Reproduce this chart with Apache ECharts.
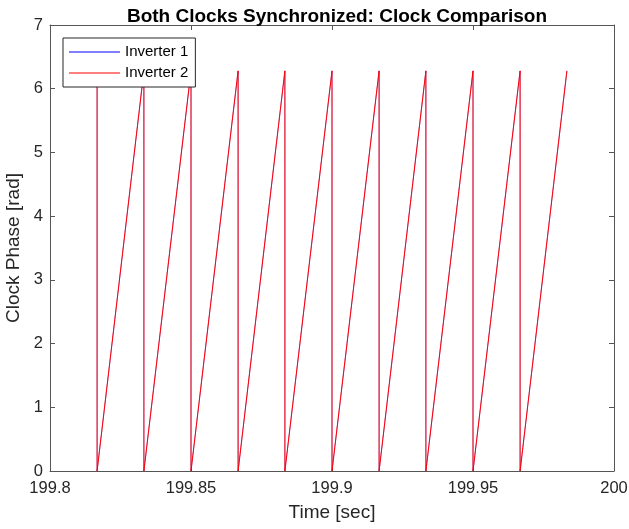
<!DOCTYPE html>
<html>
<head>
<meta charset="utf-8">
<script src="https://cdn.jsdelivr.net/npm/echarts@6/dist/echarts.min.js"></script>
<style>
  html, body { margin: 0; padding: 0; background: #fff; }
  #chart { width: 629px; height: 529px; }
</style>
</head>
<body>
<div id="chart"></div>
<script>
// time stamps of the sawtooth corners (reset instants)
var timeSec = [
  199.8167, 199.8167, 199.8333, 199.8333, 199.85, 199.85,
  199.8667, 199.8667, 199.8833, 199.8833, 199.9, 199.9,
  199.9167, 199.9167, 199.9333, 199.9333, 199.95, 199.95,
  199.9667, 199.9667, 199.9833
];
var phaseInv1 = [
  6.28, 0, 6.28, 0, 6.28, 0, 6.28, 0, 6.28, 0, 6.28, 0,
  6.28, 0, 6.28, 0, 6.28, 0, 6.28, 0, 6.28
];
var phaseInv2 = [
  6.28, 0, 6.28, 0, 6.28, 0, 6.28, 0, 6.28, 0, 6.28, 0,
  6.28, 0, 6.28, 0, 6.28, 0, 6.28, 0, 6.28
];
var xTicks = [199.8, 199.85, 199.9, 199.95, 200];

function pairs(xs, ys) {
  var out = [];
  for (var i = 0; i < xs.length; i++) {
    out.push([xs[i], ys[i]]);
  }
  return out;
}

var font = 'Liberation Sans, Arial, sans-serif';
var axisColor = '#262626';
var lineColor = '#555';

var chart = echarts.init(document.getElementById('chart'));
var option = {
  animation: false,
  backgroundColor: '#fff',
  title: {
    text: 'Both Clocks Synchronized: Clock Comparison',
    left: 332,
    textAlign: 'center',
    top: 2,
    textStyle: { fontFamily: font, fontSize: 19, fontWeight: 'bold', color: '#000' }
  },
  grid: { left: 50, right: 15, top: 25, bottom: 58, containLabel: false, outerBoundsMode: 'none' },
  legend: {
    orient: 'vertical',
    left: 63,
    top: 38,
    padding: [6, 7, 6, 6],
    itemGap: 5,
    itemWidth: 51,
    itemHeight: 1.2,
    icon: 'rect',
    borderColor: axisColor,
    borderWidth: 1,
    borderRadius: 0,
    backgroundColor: '#fff',
    textStyle: { fontFamily: font, fontSize: 15, color: '#000', lineHeight: 16 },
    data: ['Inverter 1', 'Inverter 2']
  },
  xAxis: [
    {
      type: 'value',
      min: 199.8,
      max: 200,
      name: 'Time [sec]',
      nameLocation: 'middle',
      nameGap: 32,
      nameTextStyle: { fontFamily: font, fontSize: 19, color: axisColor },
      axisLine: { lineStyle: { color: lineColor } },
      axisTick: { inside: true, length: 5, customValues: xTicks, lineStyle: { color: lineColor } },
      axisLabel: {
        customValues: xTicks,
        margin: 9,
        fontFamily: font, fontSize: 16.5, color: axisColor,
        formatter: function (v) { return String(+v.toFixed(2)); }
      },
      splitLine: { show: false }
    },
    {
      type: 'value',
      position: 'top',
      min: 199.8,
      max: 200,
      axisLine: { onZero: false, lineStyle: { color: lineColor } },
      axisTick: { inside: true, length: 5, customValues: xTicks, lineStyle: { color: lineColor } },
      axisLabel: { show: false },
      splitLine: { show: false }
    }
  ],
  yAxis: [
    {
      type: 'value',
      min: 0,
      max: 7,
      interval: 1,
      name: 'Clock Phase [rad]',
      nameLocation: 'middle',
      nameGap: 20,
      nameTextStyle: { fontFamily: font, fontSize: 19, color: axisColor },
      axisLine: { show: true, lineStyle: { color: lineColor } },
      axisTick: { show: true, inside: true, length: 5, lineStyle: { color: lineColor } },
      axisLabel: { margin: 7, fontFamily: font, fontSize: 16.5, color: axisColor },
      splitLine: { show: false }
    },
    {
      type: 'value',
      position: 'right',
      min: 0,
      max: 7,
      interval: 1,
      axisLine: { show: true, onZero: false, lineStyle: { color: lineColor } },
      axisTick: { show: true, inside: true, length: 5, lineStyle: { color: lineColor } },
      axisLabel: { show: false },
      splitLine: { show: false }
    }
  ],
  series: [
    {
      name: 'Inverter 1',
      type: 'line',
      symbol: 'none',
      color: '#0000ff',
      lineStyle: { width: 0.4, color: '#0000ff' },
      data: pairs(timeSec, phaseInv1)
    },
    {
      name: 'Inverter 2',
      type: 'line',
      symbol: 'none',
      color: '#ff0000',
      lineStyle: { width: 1, color: '#ff0000' },
      data: pairs(timeSec, phaseInv2)
    }
  ]
};
chart.setOption(option);
</script>
</body>
</html>
